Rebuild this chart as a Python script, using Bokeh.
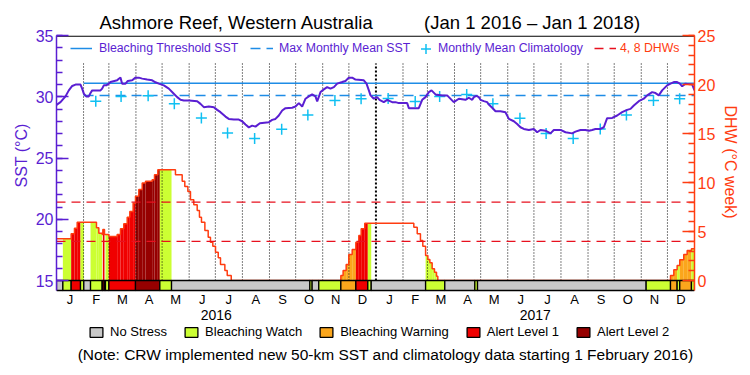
import pandas as pd
from bokeh.plotting import figure
from bokeh.core.properties import value
from bokeh.models import (Range1d, LinearAxis, FixedTicker, Legend, LegendItem, Title, Label,
                          ColumnDataSource)
from bokeh.embed import file_html
from bokeh.resources import INLINE

# ---------------- data ----------------
START = pd.Timestamp("2016-01-01")
END = pd.Timestamp("2018-01-01")
TOTAL = (END - START).days  # 731

# SST line (day offset from 1 Jan 2016, degC)
sst_day = [0, 4.6, 10.3, 14.1, 18.0, 21.8, 27.5, 29.4, 31.3, 34.0, 37.0, 39.0, 40.9, 50.4, 52.3,
           54.2, 57.0, 60.0, 61.9, 69.5, 71.4, 73.3, 75.2, 79.1, 81.7, 86.7, 90.5, 94.3, 98.2,
           103.9, 109.6, 113.4, 117.2, 123.0, 128.7, 134.4, 138.3, 142.1, 145.9, 152.0, 161.2,
           165.0, 168.8, 174.5, 180.3, 184.1, 187.9, 193.6, 197.4, 203.2, 208.9, 212.7, 216.5,
           220.4, 224.2, 228.0, 233.0, 235.6, 243.3, 247.1, 250.9, 254.7, 258.6, 262.4, 270.0,
           273.8, 277.7, 281.5, 285.3, 289.1, 292.9, 296.7, 298.7, 302.5, 306.3, 310.1, 313.9,
           317.8, 321.6, 327.3, 331.1, 334.9, 338.8, 342.6, 352.1, 355.2, 357.9, 359.8, 363.6,
           367.4, 370.1, 375.0, 378.9, 384.6, 388.4, 392.2, 401.8, 403.7, 415.1, 419.0, 422.8,
           426.6, 429.7, 434.2, 441.9, 447.6, 455.2, 461.0, 468.6, 472.4, 476.3, 478.2, 481.2,
           483.9, 485.8, 489.6, 493.4, 495.3, 499.2, 503.0, 508.7, 514.4, 518.3, 524.0, 527.8,
           531.6, 535.4, 541.2, 546.9, 550.7, 554.5, 560.3, 566.0, 569.8, 577.5, 583.2, 590.8,
           594.6, 600.4, 606.1, 609.9, 613.7, 617.6, 623.3, 627.1, 630.9, 636.7, 642.4, 648.1,
           653.8, 657.7, 661.5, 667.2, 672.9, 676.8, 682.5, 686.3, 690.1, 693.9, 699.7, 703.5,
           707.3, 711.1, 714.2, 716.9, 720.7, 728.3, 731.0]
sst_val = [29.34, 29.56, 30.03, 30.52, 30.88, 30.99, 30.99, 30.66, 30.25, 30.03, 30.03, 30.30,
           30.52, 30.52, 30.66, 30.93, 30.93, 31.07, 31.20, 31.34, 31.47, 31.56, 31.07, 31.07,
           31.29, 31.34, 31.56, 31.56, 31.48, 31.40, 31.34, 31.18, 31.07, 30.93, 30.66, 30.25,
           29.97, 29.75, 29.70, 29.70, 29.64, 29.42, 29.15, 29.20, 29.15, 28.93, 28.74, 28.38,
           28.19, 28.14, 28.14, 28.00, 27.73, 27.50, 27.64, 27.56, 27.84, 27.86, 27.92, 28.11,
           28.19, 28.47, 28.88, 29.07, 29.10, 29.20, 29.48, 29.20, 29.84, 30.03, 30.19, 30.03,
           29.62, 30.38, 30.60, 30.79, 30.66, 30.79, 31.07, 31.20, 31.29, 31.56, 31.56, 31.40,
           31.34, 31.07, 30.52, 30.11, 29.84, 29.97, 29.75, 29.56, 29.75, 29.56, 29.56, 29.48,
           29.48, 29.07, 29.07, 29.75, 29.97, 30.38, 30.52, 30.19, 30.11, 30.11, 29.56, 29.84,
           29.75, 29.92, 29.75, 29.97, 30.08, 29.97, 29.75, 29.64, 29.56, 29.37, 29.10, 28.82,
           28.82, 28.74, 28.19, 28.00, 27.78, 27.51, 27.37, 27.29, 27.37, 27.10, 27.29, 27.23,
           27.01, 27.29, 27.29, 27.10, 27.01, 27.15, 27.29, 27.29, 27.23, 27.29, 27.37, 27.37,
           27.51, 28.25, 28.27, 28.47, 28.74, 28.93, 29.01, 29.29, 29.64, 29.84, 30.11, 30.38,
           30.30, 30.11, 30.52, 30.93, 31.07, 31.20, 31.20, 31.07, 30.85, 31.07, 31.01, 30.52]

# Monthly mean climatology (mid-month)
clim_date = ["2016-02-15", "2016-03-15", "2016-04-15", "2016-05-15", "2016-06-15", "2016-07-15",
             "2016-08-15", "2016-09-15", "2016-10-15", "2016-11-15", "2016-12-15", "2017-01-15",
             "2017-02-15", "2017-03-15", "2017-04-15", "2017-05-15", "2017-06-15", "2017-07-15",
             "2017-08-15", "2017-09-15", "2017-10-15", "2017-11-15", "2017-12-15"]
clim_val = [29.64, 30.03, 30.08, 29.42, 28.27, 27.04, 26.60, 27.34, 28.52, 29.70, 29.84, 29.86,
            29.62, 30.03, 30.19, 29.42, 28.25, 27.01, 26.60, 27.37, 28.52, 29.70, 29.84]

threshold_sst = 31.1
mmm_sst = 30.1
new_data_start = "2016-02-01"
dhw_levels = [4, 8]

# Degree heating weeks, step series (start day, value, stress level)
dhw_day = [0, 7.3, 16.8, 20.6, 23.7, 27.5, 31.3, 39.0, 45.8, 48.5, 52.3, 53.1, 55.0, 56.1, 60.0,
           69.5, 73.3, 77.1, 81.0, 84.0, 87.8, 90.5, 94.3, 98.2, 102.0, 109.6, 112.3, 116.1,
           118.4, 131.8, 136.3, 144.0, 147.0, 150.5, 153.5, 157.3, 161.2, 163.8, 166.1, 170.0,
           173.8, 176.4, 179.1, 182.2, 185.3, 187.9, 192.9, 195.6, 200.2, 290.3, 292.9, 300.5,
           325.8, 328.4, 331.9, 334.9, 338.8, 343.0, 346.4, 349.1, 353.2, 356.7, 360.6, 409.4,
           413.3, 417.0, 419.7, 422.9, 425.5, 427.8, 430.4, 433.1, 435.4, 436.9, 444.9, 479.3,
           482.4, 675.6, 703.5, 707.3, 711.1, 714.1, 718.7, 722.6, 727.5]
dhw_val = [4.25, 4.25, 4.76, 5.34, 5.95, 5.95, 5.95, 5.95, 5.37, 4.82, 4.69, 5.20, 4.69, 4.69, 4.49,
           4.69, 5.27, 5.78, 6.46, 7.04, 7.89, 8.60, 9.29, 9.94, 10.14, 10.28, 10.79, 11.30,
           11.30, 11.30, 10.79, 10.14, 9.59, 9.08, 8.23, 7.72, 7.14, 6.46, 5.95, 5.10,
           4.42, 3.91, 3.50, 2.89, 2.31, 1.63, 1.02, 0.51, 0.0, 0.0, 0.0, 0.0,
           0.51, 1.02, 1.63, 2.65, 3.16, 3.91, 4.59, 5.27, 5.85, 5.85, 5.85, 5.44,
           4.76, 4.08, 3.50, 2.55, 2.14, 1.80, 1.19, 0.85, 0.44, 0.0, 0.0, 0.0,
           0.0, 0.0, 0.51, 1.09, 1.53, 2.11, 2.65, 3.06, 3.23]
dhw_status = ["none", "watch", "a1", "a1", "a1", "watch", "none", "watch", "watch", "watch",
              "none", "a1", "none", "watch", "a1", "a1", "a1", "a1", "a1", "a1", "a1", "a2",
              "a2", "a2", "a2", "a2", "a2", "a2", "watch", "none", "none", "none", "none",
              "none", "none", "none", "none", "none", "none", "none", "none", "none", "none",
              "none", "none", "none", "none", "none", "none", "watch", "none", "watch",
              "warn", "warn", "warn", "warn", "warn", "a1", "a1", "a1", "a1", "watch", "none",
              "none", "none", "none", "none", "watch", "watch", "watch", "watch", "watch",
              "watch", "watch", "none", "watch", "none", "watch", "warn", "warn", "watch",
              "warn", "warn", "warn", "watch"]

status_keys = ["none", "watch", "warn", "a1", "a2"]
status_names = ["No Stress", "Bleaching Watch", "Bleaching Warning", "Alert Level 1", "Alert Level 2"]
status_colors = ["#c8c8c8", "#ccff33", "#fba61c", "#f00000", "#960000"]

month_letters = ["J", "F", "M", "A", "M", "J", "J", "A", "S", "O", "N", "D"]
year_labels = ["2016", "2017"]
sst_ticks = [15, 20, 25, 30, 35]
dhw_ticks = [0, 5, 10, 15, 20, 25]

title_left = "Ashmore Reef, Western Australia"
title_right = "(Jan 1 2016 \u2013 Jan 1 2018)"
note_text = "(Note: CRW implemented new 50-km SST and climatology data starting 1 February 2016)"
sst_label = "SST (°C)"
dhw_label = "DHW (°C week)"

# ---------------- styling / geometry ----------------
FONT = "Liberation Sans"
PURPLE = "#5a1ed2"
BLUE = "#1e8ce6"
CYAN = "#10c0f2"
ORANGE = "#ff3c10"
RED = "#e8101e"

W, H = 750, 375
FL, FR, FT, FB = 56, 56, 35, 0     # frame: page x 56..694, y 35..375
PLOT_BOTTOM = 290                  # page y of the strip bottom (visible plot bottom)
ZERO_Y = 280                       # page y of SST 15 / DHW 0
SST_PX = (ZERO_Y - FT) / 20.0      # px per degC
DHW_PX = (ZERO_Y - FT) / 25.0      # px per DHW unit
SST_LO = 15 - (H - ZERO_Y) / SST_PX
DHW_LO = 0 - (H - ZERO_Y) / DHW_PX
STRIP_LO = -(PLOT_BOTTOM - ZERO_Y) / DHW_PX
SST_AX_LO = 15 - (PLOT_BOTTOM - ZERO_Y) / SST_PX

def dhw_at(page_y):
    return (ZERO_Y - page_y) / DHW_PX

def sx(page_x):
    return page_x - FL

def sy(page_y):
    return H - FB - page_y

def day_of(d):
    return (pd.Timestamp(d) - START).days

p = figure(width=W, height=H, output_backend="svg", toolbar_location=None,
           x_range=Range1d(0, TOTAL), y_range=Range1d(SST_LO, 35),
           x_axis_type=None, y_axis_type=None,
           min_border_left=FL, min_border_right=FR, min_border_top=FT, min_border_bottom=FB)
p.extra_y_ranges = {"dhw": Range1d(DHW_LO, 25)}
p.outline_line_color = None
p.background_fill_color = "white"
p.border_fill_color = "white"

# ---- title ----
gap = "\u00a0" * 10
p.add_layout(Title(text=title_left + gap + title_right, align="left", offset=sx(99),
                   text_font=FONT, text_font_size="18.5px", text_font_style="normal",
                   text_color="black", standoff=6), "above")

# ---- axes ----
ax_l = LinearAxis(ticker=FixedTicker(ticks=sst_ticks, minor_ticks=list(range(15, 36))),
                  bounds=(SST_AX_LO, 35))
ax_r = LinearAxis(y_range_name="dhw",
                  ticker=FixedTicker(ticks=dhw_ticks, minor_ticks=list(range(0, 26))),
                  bounds=(STRIP_LO, 25))
for ax, col in ((ax_l, PURPLE), (ax_r, ORANGE)):
    ax.axis_line_color = col
    ax.axis_line_width = 1.5
    ax.major_tick_line_color = col
    ax.minor_tick_line_color = col
    ax.major_tick_line_width = 1.5
    ax.minor_tick_line_width = 1.5
    ax.major_tick_in = 12
    ax.major_tick_out = 0
    ax.minor_tick_in = 6
    ax.minor_tick_out = 0
    ax.major_label_text_color = col
    ax.major_label_text_font = FONT
    ax.major_label_text_font_size = "16px"
    ax.major_label_standoff = 3
p.add_layout(ax_l, "left")
p.add_layout(ax_r, "right")

# axis titles, placed along the visible plot height
p.add_layout(Title(text=sst_label, align="left", offset=H - FB - 187, text_font=FONT,
                   text_font_size="16px", text_font_style="normal", text_color=PURPLE,
                   standoff=6), "left")
p.add_layout(Title(text=dhw_label, align="left", offset=105 - FT, text_font=FONT,
                   text_font_size="16px", text_font_style="normal", text_color=ORANGE,
                   standoff=6), "right")

# ---- DHW filled bars coloured by stress level ----
ends = dhw_day[1:] + [TOTAL]
col_of = dict(zip(status_keys, status_colors))
fill = dict(left=[], right=[], top=[], bottom=[], color=[])
for d0, d1, v, s in zip(dhw_day, ends, dhw_val, dhw_status):
    if s != "none" and v > 0:
        fill["left"].append(d0); fill["right"].append(d1)
        fill["top"].append(v); fill["bottom"].append(0); fill["color"].append(col_of[s])
p.quad(left="left", right="right", top="top", bottom="bottom", fill_color="color",
       line_color=None, source=ColumnDataSource(fill), y_range_name="dhw")

# ---- month boundary dotted lines ----
month_starts = pd.date_range(START, END, freq="MS")
mb = [(m - START).days for m in month_starts[1:-1]]
jan_mask = [m.month == 1 for m in month_starts[1:-1]]
top_dot = dhw_at(63)
mb_n = [d for d, j in zip(mb, jan_mask) if not j]
mb_j = [d for d, j in zip(mb, jan_mask) if j]
p.segment(x0=mb_n, x1=mb_n, y0=0, y1=top_dot, line_color="black", line_width=1,
          line_dash="1 2", y_range_name="dhw")
p.segment(x0=mb_j, x1=mb_j, y0=0, y1=top_dot, line_color="black", line_width=2,
          line_dash="2 2", y_range_name="dhw")

# ---- DHW outline ----
p.step(x=dhw_day + [TOTAL], y=dhw_val + [dhw_val[-1]], mode="after", line_color=ORANGE,
       line_width=1.5, y_range_name="dhw")

# ---- DHW 4 & 8 reference lines ----
r_dhw = p.segment(x0=[0] * len(dhw_levels), x1=[TOTAL] * len(dhw_levels), y0=dhw_levels,
                  y1=dhw_levels, line_color=RED, line_width=1.3, line_dash="9 6",
                  y_range_name="dhw")

# ---- threshold / MMM ----
x_new = day_of(new_data_start)
r_thr = p.line(x=[x_new, TOTAL], y=[threshold_sst, threshold_sst], line_color=BLUE, line_width=1.5)
r_mmm = p.line(x=[x_new, TOTAL], y=[mmm_sst, mmm_sst], line_color=BLUE, line_width=1.5,
               line_dash="10 6")

# ---- climatology crosses ----
r_clim = p.scatter(x=[day_of(d) for d in clim_date], y=clim_val, marker="cross", size=11,
                   line_color=CYAN, line_width=1.5)

# ---- SST line ----
p.line(x=sst_day, y=sst_val, line_color=PURPLE, line_width=2)

# ---- top border of the plot box ----
p.segment(x0=[0], x1=[TOTAL], y0=[35 - 0.6 / SST_PX], y1=[35 - 0.6 / SST_PX],
          line_color="black", line_width=1.2)

# ---- status strip ----
runs = []
for d0, d1, s in zip(dhw_day, ends, dhw_status):
    if runs and runs[-1][2] == s:
        runs[-1][1] = d1
    else:
        runs.append([d0, d1, s])
strip = dict(left=[r[0] for r in runs], right=[r[1] for r in runs],
             top=[0] * len(runs), bottom=[STRIP_LO] * len(runs),
             color=[col_of[r[2]] for r in runs])
r_strip = p.quad(left="left", right="right", top="top", bottom="bottom", fill_color="color",
                 line_color="black", line_width=1.3, source=ColumnDataSource(strip),
                 y_range_name="dhw")

# ---- month letters and years under the strip ----
mid_ticks, mid_lab = [], []
for i in range(len(month_starts) - 1):
    a = (month_starts[i] - START).days
    b = (month_starts[i + 1] - START).days
    mid_ticks.append((a + b) / 2)
    mid_lab.append(month_letters[month_starts[i].month - 1])
p.text(x=mid_ticks, y=[dhw_at(298.5)] * len(mid_ticks), text=mid_lab, text_align="center",
       text_baseline="middle", text_font=value(FONT), text_font_size="13px",
       text_color="black", y_range_name="dhw")
year_starts = pd.date_range(START, END, freq="YS")
year_mid = [((year_starts[i] - START).days + (year_starts[i + 1] - START).days) / 2
            for i in range(len(year_starts) - 1)]
p.text(x=year_mid, y=[dhw_at(314)] * len(year_mid), text=year_labels, text_align="center",
       text_baseline="middle", text_font=value(FONT), text_font_size="14px",
       text_color="black", y_range_name="dhw")

# ---- legends ----
def make_legend(items, x, y, gw, gh, standoff, color, size, spacing=0):
    return Legend(items=items, location=(x, y), orientation="horizontal",
                  glyph_width=gw, glyph_height=gh, label_standoff=standoff,
                  label_height=gh, label_width=0, padding=0, margin=0, spacing=spacing,
                  border_line_color=None, background_fill_alpha=0,
                  label_text_color=color, label_text_font=FONT, label_text_font_size=size,
                  label_text_baseline="middle")

p.add_layout(make_legend([LegendItem(label="Bleaching Threshold SST", renderers=[r_thr])],
                         sx(70), sy(48) - 7, 22, 14, 7, PURPLE, "12.3px"))
p.add_layout(make_legend([LegendItem(label="Max Monthly Mean SST", renderers=[r_mmm])],
                         sx(250), sy(48) - 7, 23, 14, 6, PURPLE, "12.3px"))
p.add_layout(make_legend([LegendItem(label="Monthly Mean Climatology", renderers=[r_clim])],
                         sx(413), sy(48) - 12.5, 25, 25, 0, PURPLE, "12.3px"))
p.add_layout(make_legend([LegendItem(label="4, 8 DHWs", renderers=[r_dhw], index=0)],
                         sx(594), sy(48) - 7, 22, 14, 4, ORANGE, "12.3px"))

first_idx = {}
for i, r in enumerate(runs):
    first_idx.setdefault(r[2], i)
items = [LegendItem(label=n, renderers=[r_strip], index=first_idx[k])
         for k, n in zip(status_keys, status_names)]
p.add_layout(make_legend(items, sx(88), sy(333) - 6, 16, 12, 6, "black", "13px", spacing=16))

# ---- note ----
p.add_layout(Label(x=sx(385), y=sy(354), x_units="screen", y_units="screen", text=note_text,
                   text_font=FONT, text_font_size="15.5px", text_color="black",
                   text_align="center", text_baseline="middle"))

open("out.html", "w").write(file_html(p, INLINE))
